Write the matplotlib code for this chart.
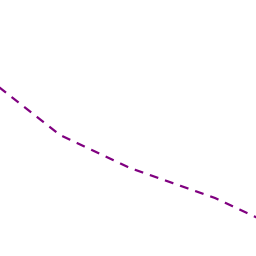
import matplotlib
matplotlib.use("Agg")
import matplotlib.pyplot as plt

x = [-5, 60, 130, 215, 262]
y = [84, 135, 168, 198, 220]

fig = plt.figure(figsize=(2.56, 2.56), dpi=100)
ax = fig.add_axes([0, 0, 1, 1])
ax.plot(x, y, color="#800080", linewidth=1.6, linestyle=(0, (4, 3.2)))
ax.set_xlim(0, 256)
ax.set_ylim(256, 0)
ax.axis("off")
fig.savefig("out.png", dpi=100)
